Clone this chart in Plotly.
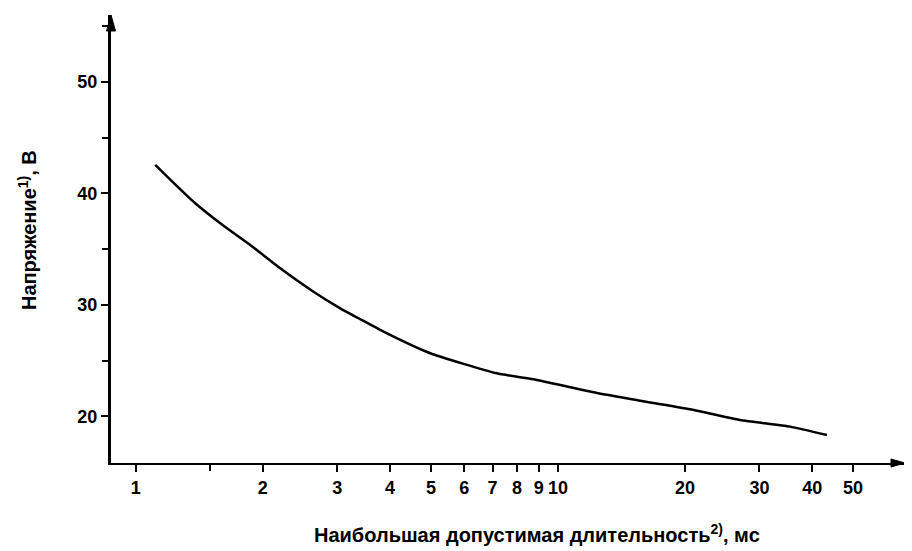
import plotly.graph_objects as go

# Data
duration_ms = [1.112, 1.229, 1.383, 1.614, 1.867, 2.199, 2.636, 3.050, 3.370, 3.862,
               4.982, 7.166, 8.913, 12.47, 15.65, 20.56, 27.01, 35.47, 43.35]
voltage_v = [42.56, 40.95, 39.12, 37.10, 35.38, 33.29, 31.19, 29.70, 28.81, 27.61,
             25.67, 23.87, 23.27, 22.08, 21.42, 20.65, 19.69, 19.09, 18.34]

x_tick_vals = [1, 2, 3, 4, 5, 6, 7, 8, 9, 10, 20, 30, 40, 50]
x_tick_text = ["1", "2", "3", "4", "5", "6", "7", "8", "9", "10", "20", "30", "40", "50"]
x_unlabeled_ticks = [1.5]
y_tick_vals = [20, 30, 40, 50]
y_tick_text = ["20", "30", "40", "50"]

x_title = "Наибольшая допустимая длительность<sup>2)</sup>, мс"
y_title = "Напряжение<sup>1)</sup>, В"

FONT = "Liberation Sans"

# page body adds an 8px offset; figure sized so the page does not overflow
W, H = 904, 543
ML, MR, MT, MB = 103, 7, 7, 88
PW, PH = W - ML - MR, H - MT - MB
X_RANGE = [-0.0587, 1.822]

fig = go.Figure()
fig.add_trace(go.Scatter(
    x=duration_ms, y=voltage_v, mode="lines",
    line=dict(color="black", width=2.5, shape="spline", smoothing=0.5),
    showlegend=False, hoverinfo="skip",
))
# empty trace carrying the secondary x axis (unlabelled tick at 1.5)
fig.add_trace(go.Scatter(x=[], y=[], xaxis="x2", showlegend=False, hoverinfo="skip"))

fig.update_layout(
    width=W, height=H,
    margin=dict(l=ML, r=MR, t=MT, b=MB),
    paper_bgcolor="white", plot_bgcolor="white",
    font=dict(family=FONT, color="black", size=18),
    xaxis=dict(
        type="log", range=X_RANGE,
        tickvals=x_tick_vals, ticktext=x_tick_text,
        ticks="outside", ticklen=7, tickwidth=2, tickcolor="black",
        showline=True, linecolor="black", linewidth=2,
        showgrid=False, zeroline=False,
        tickfont=dict(family=FONT, size=18, color="black", weight="bold"),
    ),
    xaxis2=dict(
        type="log", range=X_RANGE, overlaying="x", side="bottom",
        tickvals=x_unlabeled_ticks, showticklabels=False,
        ticks="outside", ticklen=7, tickwidth=2, tickcolor="black",
        showline=False, showgrid=False, zeroline=False,
    ),
    yaxis=dict(
        range=[15.83, 56.0],
        tickvals=y_tick_vals, ticktext=y_tick_text,
        ticks="outside", ticklen=7, tickwidth=2, tickcolor="black",
        minor=dict(dtick=5, tick0=0, ticks="outside", ticklen=6, tickwidth=1.5, tickcolor="black"),
        showline=True, linecolor="black", linewidth=3,
        showgrid=False, zeroline=False,
        tickfont=dict(family=FONT, size=18, color="black", weight="bold"),
    ),
    annotations=[
        dict(text=x_title, xref="paper", yref="paper", x=0.537, y=0, yshift=-70,
             showarrow=False, xanchor="center", yanchor="middle",
             font=dict(family=FONT, size=20, color="black", weight="bold")),
        dict(text=y_title, xref="paper", yref="paper", x=0, y=0.52, xshift=-84,
             showarrow=False, xanchor="center", yanchor="middle", textangle=-90,
             font=dict(family=FONT, size=20, color="black", weight="bold")),
    ],
    shapes=[
        # arrowhead at top of y axis
        dict(type="path", xref="paper", yref="paper",
             path=f"M {-4.5/PW},{1-16/PH} L 0,1 L {4.5/PW},{1-16/PH} Z",
             fillcolor="black", line=dict(color="black", width=1)),
        # arrowhead at right end of x axis
        dict(type="path", xref="paper", yref="paper",
             path=f"M {1-14/PW},{4/PH} L 1,0 L {1-14/PW},{-4/PH} Z",
             fillcolor="black", line=dict(color="black", width=1)),
    ],
)

fig.write_html("out.html")
